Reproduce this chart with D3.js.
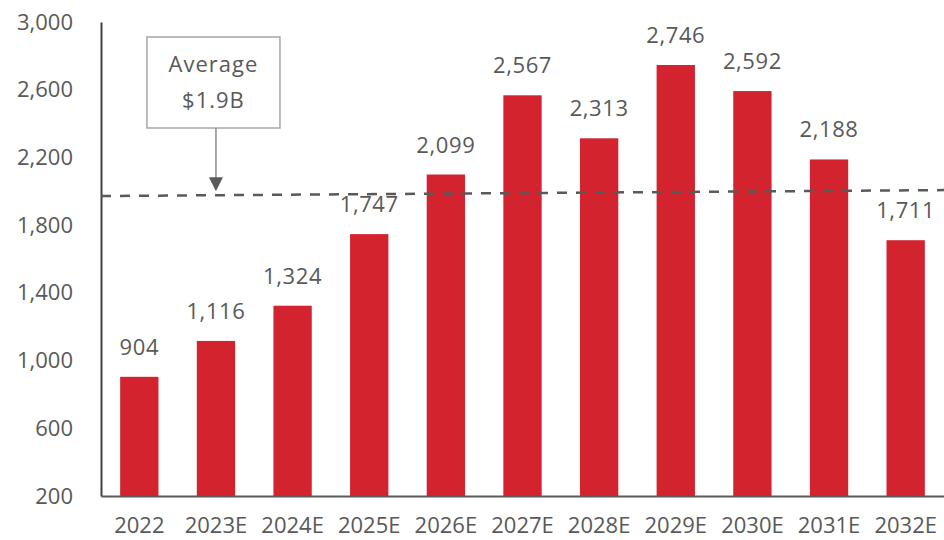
<!DOCTYPE html>
<html>
<head>
<meta charset="utf-8">
<script src="https://cdn.jsdelivr.net/npm/d3@7"></script>
<style>
  html, body { margin: 0; padding: 0; background: #ffffff; }
  svg { display: block; }
  text { font-family: "Open Sans", "Liberation Sans", sans-serif; fill: #595959; }
</style>
</head>
<body>
<svg id="chart" width="944" height="540"></svg>
<script>
// Annual values by year (E = estimate)
const categories = ["2022", "2023E", "2024E", "2025E", "2026E", "2027E", "2028E", "2029E", "2030E", "2031E", "2032E"];
const values = [904, 1116, 1324, 1747, 2099, 2567, 2313, 2746, 2592, 2188, 1711];
const yTicks = [200, 600, 1000, 1400, 1800, 2200, 2600, 3000];
// Dashed reference line: level at the left and right ends of the plot
const avgLine = [1972, 2007];
const avgLabel = ["Average", "$1.9B"];
const avgAnchor = "2023E";

const svg = d3.select("#chart");
const plot = { left: 101, right: 944, top: 22, bottom: 496 };

const x = d3.scaleBand()
  .domain(categories)
  .range([plot.left, plot.right])
  .paddingInner(0.5)
  .paddingOuter(0.25);

const y = d3.scaleLinear()
  .domain([200, 3000])
  .range([plot.bottom, plot.top]);

const fmt = d3.format(",");

// Bars
svg.append("g")
  .selectAll("rect")
  .data(values)
  .join("rect")
  .attr("x", (d, i) => x(categories[i]))
  .attr("width", x.bandwidth())
  .attr("y", d => y(d))
  .attr("height", d => y(200) - y(d))
  .attr("fill", "#d2232e");

// Value labels
svg.append("g")
  .selectAll("text")
  .data(values)
  .join("text")
  .attr("x", (d, i) => x(categories[i]) + x.bandwidth() / 2)
  .attr("y", d => y(d) - 22)
  .attr("text-anchor", "middle")
  .style("font-size", "22px")
  .style("letter-spacing", "0.6px")
  .text(d => fmt(d));

// Y axis
const yAxis = d3.axisLeft(y)
  .tickValues(yTicks)
  .tickSize(0)
  .tickPadding(28)
  .tickFormat(fmt);
const gy = svg.append("g")
  .attr("transform", `translate(${plot.left},0)`)
  .call(yAxis);
gy.select(".domain").attr("stroke", "#404040").attr("stroke-width", 2);
gy.selectAll(".tick text")
  .style("font-size", "22px")
  .style("font-family", "'Open Sans', sans-serif")
  .attr("fill", "#595959");

// X axis
const xAxis = d3.axisBottom(x).tickSize(0).tickPadding(21);
const gx = svg.append("g")
  .attr("transform", `translate(0,${plot.bottom})`)
  .call(xAxis);
gx.select(".domain").attr("stroke", "#595959").attr("stroke-width", 2);
gx.selectAll(".tick text")
  .style("font-size", "22px")
  .style("font-family", "'Open Sans', sans-serif")
  .attr("fill", "#595959");

// Dashed average line
svg.append("line")
  .attr("x1", plot.left)
  .attr("x2", plot.right)
  .attr("y1", y(avgLine[0]))
  .attr("y2", y(avgLine[1]))
  .attr("stroke", "#595959")
  .attr("stroke-width", 2.5)
  .attr("stroke-dasharray", "10 9");

// Callout box with arrow pointing to the average line
const ax = x(avgAnchor) + x.bandwidth() / 2;
const lineAt = px => y(avgLine[0]) + (y(avgLine[1]) - y(avgLine[0])) * (px - plot.left) / (plot.right - plot.left);
const boxW = 133, boxH = 91, boxTop = 37;
const boxCx = ax - 2.5;

svg.append("rect")
  .attr("x", boxCx - boxW / 2)
  .attr("y", boxTop)
  .attr("width", boxW)
  .attr("height", boxH)
  .attr("fill", "#ffffff")
  .attr("stroke", "#a6a6a6")
  .attr("stroke-width", 1.5);

svg.append("g")
  .selectAll("text")
  .data(avgLabel)
  .join("text")
  .attr("x", boxCx)
  .attr("y", (d, i) => boxTop + 35 + i * 36)
  .attr("text-anchor", "middle")
  .style("font-size", "22px")
  .style("letter-spacing", "1px")
  .text(d => d);

const tipY = lineAt(ax) - 4;
svg.append("line")
  .attr("x1", ax).attr("x2", ax)
  .attr("y1", boxTop + boxH)
  .attr("y2", tipY - 12)
  .attr("stroke", "#8c8c8c")
  .attr("stroke-width", 1.5);

svg.append("path")
  .attr("d", `M${ax - 7},${tipY - 14} L${ax + 7},${tipY - 14} L${ax},${tipY} Z`)
  .attr("fill", "#595959");
</script>
</body>
</html>
